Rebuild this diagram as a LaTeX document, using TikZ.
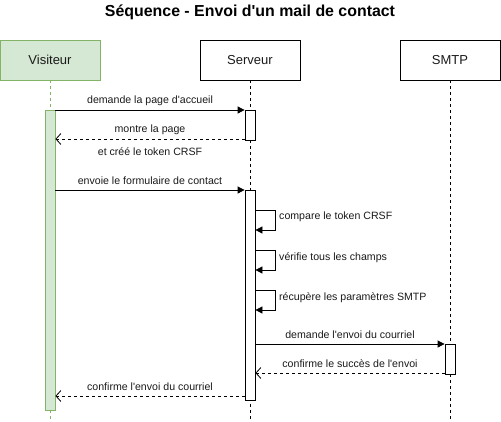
\documentclass[tikz,border=0pt]{standalone}
\usepackage{fontspec}
\setmainfont{Liberation Sans}
\usetikzlibrary{arrows.meta,calc}
\definecolor{vfill}{HTML}{D5E8D4}
\definecolor{vline}{HTML}{82B366}
\definecolor{txt}{HTML}{1A1A1A}
\newcommand{\sq}{\XeTeXglyph\XeTeXcharglyph"0027\relax}
\begin{document}
\begin{tikzpicture}[x=1pt,y=-1pt,
  actorbox/.style={draw=black, fill=white, minimum width=100pt, minimum height=40pt, inner sep=0pt, font=\fontsize{13}{15}\selectfont, text=txt, line width=0.8pt},
  actbar/.style={draw=black, fill=white, minimum width=10pt, inner sep=0pt, line width=0.8pt},
  lifeline/.style={draw=black, dash pattern=on 3pt off 3pt, line width=0.7pt},
  msg/.style={draw=black, line width=0.8pt, -{Triangle[length=7pt,width=7pt]}},
  ret/.style={draw=black, line width=0.8pt, dash pattern=on 3pt off 3pt, -{Straight Barb[length=5pt,width=11pt,line width=0.8pt]}},
  lbl/.style={font=\fontsize{10.6}{13}\selectfont, text=txt, inner sep=0pt},
]
\useasboundingbox (0,0) rectangle (501,421);
\node[font=\bfseries\fontsize{15.9}{18}\selectfont, text=black] (title) at (250,12) {Séquence - Envoi d\sq un mail de contact};

\node[actorbox, fill=vfill, draw=vline] (vis) at (50,60) {Visiteur};
\node[actorbox] (srv) at (250,60) {Serveur};
\node[actorbox] (smtp) at (450,60) {SMTP};

\coordinate (visend) at (50,420);
\coordinate (srvend) at (250,420);
\coordinate (smtpend) at (450,420);
\draw[lifeline, draw=vline] (vis.south) -- (visend);
\draw[lifeline] (srv.south) -- (srvend);
\draw[lifeline] (smtp.south) -- (smtpend);

\node[actbar, fill=vfill, draw=vline, minimum height=300pt] (actV) at (50,260) {};
\node[actbar, minimum height=30pt] (actS1) at (250,125) {};
\node[actbar, minimum height=210pt] (actS2) at (250,295) {};
\node[actbar, minimum height=30pt] (actM) at (450,359) {};

% messages
\draw[msg] (actV.east |- 0,110) -- (actS1.west |- 0,110);
\node[lbl] at (150,101) {demande la page d\sq accueil};

\draw[ret] (actS1.west |- 0,139) -- (actV.east |- 0,139);
\node[lbl] at (150,130) {montre la page};
\node[lbl] at (150,152) {et créé le token CRSF};

\draw[msg] (actV.east |- 0,190) -- (actS2.west |- 0,190);
\node[lbl] at (150,181) {envoie le formulaire de contact};

\draw[msg] (actS2.east |- 0,210) -- ++(20,0) -- ++(0,20) -- (actS2.east |- 0,230);
\node[lbl, anchor=west] at (279,217) {compare le token CRSF};

\draw[msg] (actS2.east |- 0,250) -- ++(20,0) -- ++(0,20) -- (actS2.east |- 0,270);
\node[lbl, anchor=west] at (279,258) {vérifie tous les champs};

\draw[msg] (actS2.east |- 0,290) -- ++(20,0) -- ++(0,20) -- (actS2.east |- 0,310);
\node[lbl, anchor=west] at (279,298) {récupère les paramètres SMTP};

\draw[msg] (actS2.east |- 0,344) -- (actM.west |- 0,344);
\node[lbl] at (350,335) {demande l\sq envoi du courriel};

\draw[ret] (actM.west |- 0,373) -- (actS2.east |- 0,373);
\node[lbl] at (350,364) {confirme le succès de l\sq envoi};

\draw[ret] (actS2.west |- 0,396) -- (actV.east |- 0,396);
\node[lbl] at (150,387) {confirme l\sq envoi du courriel};
\end{tikzpicture}
\end{document}
